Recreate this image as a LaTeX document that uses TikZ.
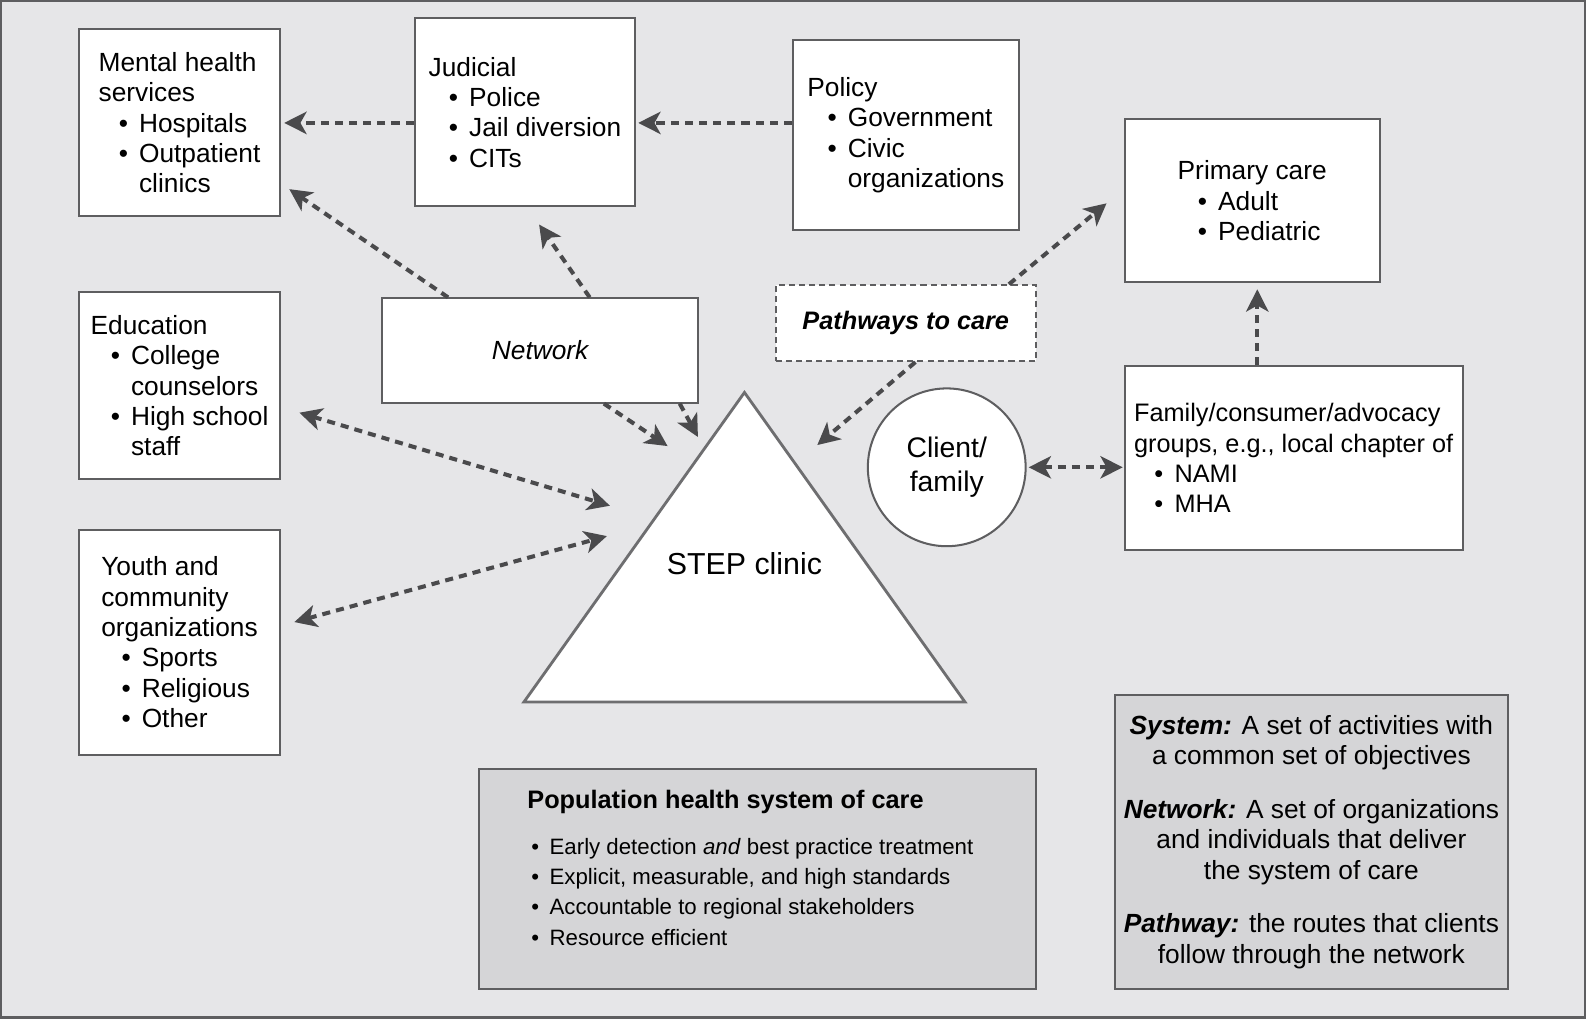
\documentclass[tikz,border=0pt]{standalone}
\usepackage{fontspec}
\setmainfont{Liberation Sans}
\usetikzlibrary{arrows.meta}
\definecolor{bggray}{HTML}{E6E6E8}
\definecolor{popgray}{HTML}{D5D5D7}
\definecolor{edgegray}{HTML}{5E5E60}
\definecolor{arrowgray}{HTML}{4A4A4C}
\newcommand{\bul}{\hspace*{10pt}\makebox[10pt][l]{\textbullet}}
\newcommand{\cnt}{\hspace*{20pt}}
\newcommand{\pbul}{\hspace*{2pt}\makebox[9pt][l]{\textbullet}}

\begin{document}
\begin{tikzpicture}[x=0.5pt, y=-0.5pt,
            box/.style={draw=edgegray, line width=1pt, fill=white, align=left,
                inner sep=0pt, font=\fontsize{13}{15}\selectfont},
            arrow/.style={-{Stealth[length=11pt, width=11pt, inset=3pt]}, arrowgray,
                line width=2pt, dash pattern=on 4pt off 3pt},
            dblarrow/.style={arrow, {Stealth[length=11pt, width=11pt, inset=3pt]}-{Stealth[length=11pt, width=11pt, inset=3pt]}},
        ]
            \useasboundingbox (0, 0) rectangle (1568, 1007);
            \draw[fill=bggray, draw=edgegray, line width=1.2pt] (1, 1) rectangle (1567, 1006);

            % left column
            \node[box, minimum width=99.5pt, minimum height=92.5pt] (mental) at (177.5, 121.5)
                {Mental health\\services\\\bul Hospitals\\\bul Outpatient\\\cnt clinics};
            \node[box, minimum width=99.5pt, minimum height=92.5pt] (education) at (177.5, 381.5)
                {Education\\\bul College\\\cnt counselors\\\bul High school\\\cnt staff};
            \node[box, minimum width=99.5pt, minimum height=111pt] (youth) at (177.5, 635)
                {Youth and\\community\\organizations\\\bul Sports\\\bul Religious\\\bul Other};

            % top row
            \node[box, minimum width=109pt, minimum height=93pt] (judicial) at (519, 111)
                {Judicial\\\bul Police\\\bul Jail diversion\\\bul CITs};
            \node[box, minimum width=111.5pt, minimum height=93.5pt] (policy) at (895.5, 133.5)
                {Policy\\\bul Government\\\bul Civic\\\cnt organizations};
            \node[box, minimum width=126pt, minimum height=80.5pt] (primary) at (1238, 198.5)
                {Primary care\\\bul Adult\\\bul Pediatric};

            % middle
            \node[box, align=center, minimum width=156pt, minimum height=51.5pt] (network) at (534, 346.5)
                {\itshape Network};
            \node[box, align=center, dash pattern=on 3pt off 2pt, minimum width=128.5pt,
                minimum height=37.5pt] (pathways) at (895.5, 319.5)
                {\fontsize{12.5}{15}\selectfont\bfseries\itshape Pathways to care};
            \node[box, circle, align=center, minimum size=78pt, font=\fontsize{14}{16.5}\selectfont]
                (client) at (936, 462) {Client/\\family};
            \node[box, minimum width=167pt, minimum height=91pt, font=\fontsize{12.5}{15}\selectfont] (family) at (1279, 453)
                {Family/consumer/advocacy\\groups, e.g., local chapter of\\\bul NAMI\\\bul MHA};

            % STEP clinic
            \coordinate (apex) at (736, 388);
            \coordinate (baseleft) at (518, 694);
            \coordinate (baseright) at (954, 694);
            \draw[fill=white, draw=edgegray!90, line width=1.4pt] (apex) -- (baseleft) -- (baseright) -- cycle;
            \node[font=\fontsize{15}{18}\selectfont] (step) at (736, 557) {STEP clinic};
            \coordinate (tria) at (660, 441);
            \coordinate (trib) at (690, 432);
            \coordinate (tric) at (808, 440);
            \coordinate (trid) at (603, 500);
            \coordinate (trie) at (600, 530);

            % bottom boxes
            \node[box, fill=popgray, minimum width=275pt, minimum height=109pt] (pop) at (749, 869) {};
            \node[anchor=north west, align=left, inner sep=0pt, font=\fontsize{11}{15}\selectfont] (poptext)
                at ([xshift=24pt, yshift=-11pt]pop.north west)
                {{\fontsize{12.5}{15}\selectfont\bfseries Population health system of care}\\[7.5pt]
                \pbul Early detection \textit{and} best practice treatment\\
                \pbul Explicit, measurable, and high standards\\
                \pbul Accountable to regional stakeholders\\
                \pbul Resource efficient};
            \node[box, fill=popgray, align=center, minimum width=194.5pt, minimum height=145.5pt] (defs) at (1296.5, 832.5)
                {\textbf{\textit{System:}} A set of activities with\\a common set of objectives\\[11.5pt]
                \textbf{\textit{Network:}} A set of organizations\\and individuals that deliver\\the system of care\\[11.5pt]
                \textbf{\textit{Pathway:}} the routes that clients\\follow through the network};

            % connectors
            \draw[arrow] (judicial.west |- mental.east) -- ([xshift=1.5pt]mental.east);
            \draw[arrow] (policy.west |- mental.east) -- ([xshift=1pt]judicial.east |- mental.east);
            \draw[arrow] ([xshift=-45.5pt]network.north) -- ([xshift=4pt, yshift=14pt]mental.south east);
            \draw[arrow] ([xshift=24.5pt]network.north) -- ([xshift=7pt, yshift=-8.5pt]judicial.south);
            \draw[arrow] ([xshift=31.5pt]network.south) -- (tria);
            \draw[arrow] ([xshift=69pt]network.south) -- (trib);
            \draw[arrow] ([xshift=4.75pt]pathways.south) -- (tric);
            \draw[arrow] ([xshift=51pt]pathways.north) -- ([xshift=-8.5pt, yshift=39.5pt]primary.south west);
            \draw[arrow] ([xshift=-18pt]family.north) -- ([xshift=2.5pt, yshift=-3pt]primary.south);
            \draw[dblarrow] ([xshift=1pt]client.east) -- ([xshift=-0.5pt]client.east -| family.west);
            \draw[dblarrow] ([xshift=9pt, yshift=-13.25pt]education.east) -- (trid);
            \draw[dblarrow] ([xshift=6.5pt, yshift=10pt]youth.east) -- (trie);
        \end{tikzpicture}
\end{document}
